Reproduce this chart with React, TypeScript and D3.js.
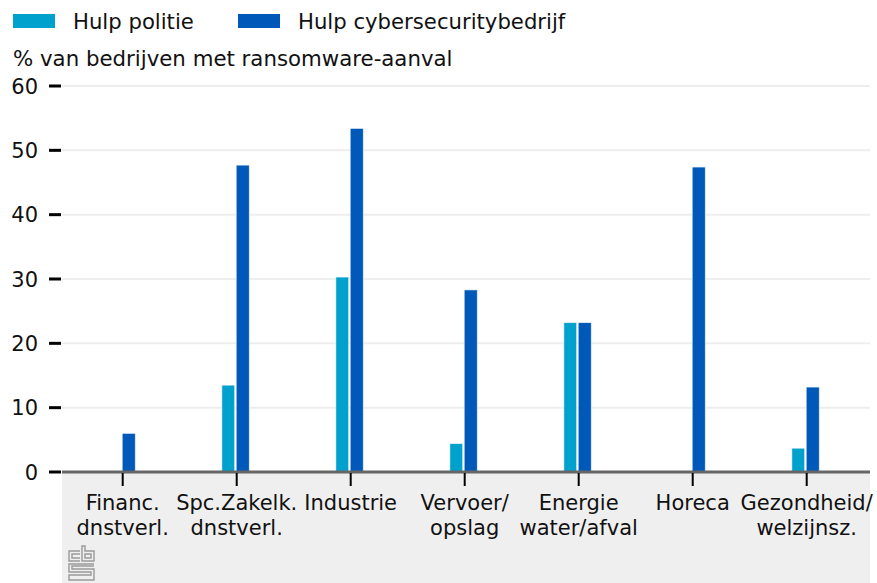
import React from "react";
import * as d3 from "d3";

const categories = [
  ["Financ.", "dnstverl."],
  ["Spc.Zakelk.", "dnstverl."],
  ["Industrie"],
  ["Vervoer/", "opslag"],
  ["Energie", "water/afval"],
  ["Horeca"],
  ["Gezondheid/", "welzijnsz."],
];
const categoryKeys = categories.map((c) => c.join(" "));
const politie = [0, 13.5, 30.3, 4.4, 23.2, 0, 3.7];
const cyber = [6, 47.7, 53.4, 28.3, 23.2, 47.4, 13.2];
const yTicks = [0, 10, 20, 30, 40, 50, 60];
const seriesNames = ["Hulp politie", "Hulp cybersecuritybedrijf"];
const colors = ["#00a1cd", "#0058b8"];

const W = 877;
const H = 583;
const FONT = "'DejaVu Sans', sans-serif";

export default function App() {
  const y = d3.scaleLinear().domain([0, 60]).range([472, 86]);
  const x = d3.scaleBand<string>().domain(categoryKeys).range([65.7, 863.7]).padding(0);
  const plotLeft = 62;
  const plotRight = 870;

  return (
    <svg
      width={W}
      height={H}
      style={{ position: "absolute", left: 0, top: 0, fontFamily: FONT }}
    >
      <rect x={0} y={0} width={W} height={H} fill="#ffffff" />
      {/* bottom grey area */}
      <rect x={plotLeft} y={y(0)} width={plotRight - plotLeft} height={H - y(0)} fill="#efefef" />

      {/* legend */}
      {seriesNames.map((name, i) => {
        const lx = i === 0 ? 13 : 238;
        return (
          <g key={name}>
            <rect x={lx} y={14} width={42} height={14} fill={colors[i]} />
            <text x={lx + 60} y={29} fontSize={21.2} fill="#111">
              {name}
            </text>
          </g>
        );
      })}
      <text x={13} y={66} fontSize={21.3} fill="#111">
        % van bedrijven met ransomware-aanval
      </text>

      {/* grid & y ticks */}
      {yTicks.map((t) => (
        <g key={t}>
          {t !== 0 && (
            <line x1={plotLeft} x2={plotRight} y1={y(t)} y2={y(t)} stroke="#eeeeee" strokeWidth={2} />
          )}
          <line x1={49} x2={61} y1={y(t)} y2={y(t)} stroke="#000" strokeWidth={3} />
          <text x={38} y={y(t)} dy="0.36em" textAnchor="end" fontSize={21} fill="#111">
            {t}
          </text>
        </g>
      ))}

      {/* bars */}
      {categoryKeys.map((k, i) => {
        const c = (x(k) as number) + x.bandwidth() / 2;
        return (
          <g key={k}>
            {politie[i] > 0 && (
              <rect
                x={c - 14.8}
                y={y(politie[i])}
                width={12.8}
                height={y(0) - y(politie[i])}
                fill={colors[0]}
                stroke="#e8f4fa"
                strokeWidth={0.6}
              />
            )}
            {cyber[i] > 0 && (
              <rect
                x={c - 0.5}
                y={y(cyber[i])}
                width={13}
                height={y(0) - y(cyber[i])}
                fill={colors[1]}
                stroke="#e8eef8"
                strokeWidth={0.6}
              />
            )}
          </g>
        );
      })}

      {/* x axis */}
      <line x1={plotLeft} x2={plotRight} y1={y(0)} y2={y(0)} stroke="#666666" strokeWidth={3} />
      {categoryKeys.map((k, i) => {
        const c = (x(k) as number) + x.bandwidth() / 2;
        return (
          <g key={k}>
            <line x1={c} x2={c} y1={y(0) + 1} y2={y(0) + 14} stroke="#000" strokeWidth={2} />
            {categories[i].map((line, j) => (
              <text key={j} x={c} y={510 + j * 25} textAnchor="middle" fontSize={21} fill="#111">
                {line}
              </text>
            ))}
          </g>
        );
      })}

      {/* cbs logo */}
      <g transform="translate(68,545)" fill="none" stroke="#9a9a9a" strokeWidth={1.4}>
        <path d="M12,6 H1 V16 H12" />
        <path d="M12,9 H4 V13 H12" />
        <path d="M14,1 V16 H26 V6 H17 V1 Z" />
        <path d="M17,9 H23 V13 H17 Z" />
        <path d="M26,19 H1 V27 H23 V30 H1 V35 H26 V24 H4 V21 H26" />
      </g>
    </svg>
  );
}
